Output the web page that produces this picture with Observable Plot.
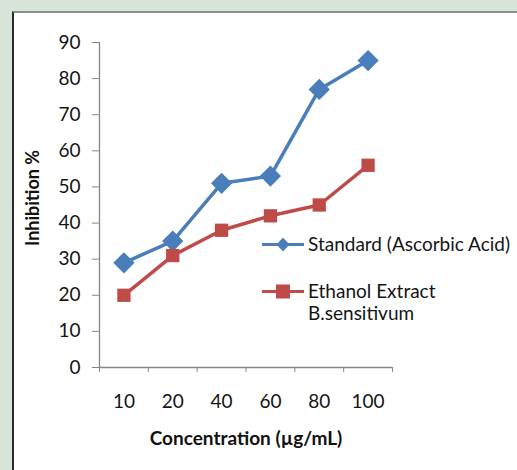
<!DOCTYPE html>
<html><head><meta charset="utf-8">
<script src="https://cdn.jsdelivr.net/npm/d3@7"></script>
<script src="https://cdn.jsdelivr.net/npm/@observablehq/plot@0.6"></script>
<style>
body{margin:0;}
#wrap{position:relative;width:517px;height:470px;background:#d6e4da;overflow:hidden;font-family:Lato,sans-serif;}
#panel{position:absolute;left:12px;top:11px;right:-4px;bottom:-4px;background:#fff;border-left:2px solid #2a2a2a;border-top:2px solid #8c8c8c;}
#chart{position:absolute;left:0;top:0;}
.leg{position:absolute;font-size:19px;color:#151515;line-height:22px;white-space:nowrap;}
.leg svg{position:absolute;left:-46px;top:0;}
</style></head>
<body>
<div id="wrap"><div id="panel"></div><div id="chart"></div>
<div class="leg" id="leg1" style="left:308px;top:233px;"></div>
<div class="leg" id="leg2" style="left:308px;top:280px;"></div>
</div>
<script>
const concentrations = ["10", "20", "40", "60", "80", "100"];
const standard = [29, 35, 51, 53, 77, 85];
const ethanol = [20, 31, 38, 42, 45, 56];
const yTicks = [0, 10, 20, 30, 40, 50, 60, 70, 80, 90];
const seriesNames = ["Standard (Ascorbic Acid)", "Ethanol Extract B.sensitivum"];
const colors = ["#4a7ebb", "#be4b48"];

const rows = [];
concentrations.forEach((c, i) => {
  rows.push({i, c, v: standard[i], s: seriesNames[0]});
  rows.push({i, c, v: ethanol[i], s: seriesNames[1]});
});
const idx = concentrations.map((c, i) => i);
const bounds = d3.range(concentrations.length + 1).map(k => k - 0.5);

const diamond = {draw(ctx, size) { const r = Math.sqrt(size) * 0.75; ctx.moveTo(0,-r); ctx.lineTo(r,0); ctx.lineTo(0,r); ctx.lineTo(-r,0); ctx.closePath(); }};
const square = {draw(ctx, size) { const r = Math.sqrt(size) * 0.5; ctx.rect(-r,-r,2*r,2*r); }};

const axisColor = "#868686";
const plot = Plot.plot({
  width: 517, height: 470,
  marginLeft: 99, marginRight: 125, marginTop: 42, marginBottom: 103,
  style: {background: "transparent", fontFamily: "Lato, sans-serif", color: "#151515", fontSize: "19px"},
  x: {type: "linear", domain: [-0.5, concentrations.length - 0.5]},
  y: {domain: [0, 90]},
  marks: [
    Plot.axisY(yTicks, {tickSize: 7, tickPadding: 12, stroke: axisColor, fill: "#151515", fontSize: 19, label: null}),
    Plot.axisX(bounds, {tickSize: 5, tickFormat: () => "", stroke: axisColor, label: null}),
    Plot.axisX(idx, {tickSize: 0, tickPadding: 27, tickFormat: i => concentrations[i], fill: "#151515", fontSize: 19, label: null}),
    Plot.ruleX([-0.5], {stroke: axisColor, strokeWidth: 1.3}),
    Plot.ruleY([0], {stroke: axisColor, strokeWidth: 1.3}),
    Plot.line(rows, {x: "i", y: "v", z: "s", stroke: d => d.s === seriesNames[0] ? colors[0] : colors[1], strokeWidth: 3.5}),
    Plot.dot(rows.filter(d => d.s === seriesNames[0]), {x: "i", y: "v", symbol: diamond, r: 8, fill: colors[0], stroke: "none"}),
    Plot.dot(rows.filter(d => d.s === seriesNames[1]), {x: "i", y: "v", symbol: square, r: 7.5, fill: colors[1], stroke: "none"}),
    Plot.text(["Concentration (µg/mL)"], {frameAnchor: "bottom", dy: 77, fontWeight: "bold", fontSize: 19, fill: "#111"}),
    Plot.text(["Inhibition %"], {frameAnchor: "left", textAnchor: "middle", dx: -66, dy: -7, rotate: -90, fontWeight: "bold", fontSize: 18, fill: "#111"})
  ]
});
document.getElementById("chart").appendChild(plot);

function legendGlyph(kind, color) {
  const s = kind === "d"
    ? `<path d="M21,4.5 L27.5,11.5 L21,18.5 L14.5,11.5 Z" fill="${color}"/>`
    : `<rect x="14" y="4.5" width="14" height="14" fill="${color}"/>`;
  return `<svg width="44" height="22"><line x1="0" x2="42" y1="11.5" y2="11.5" stroke="${color}" stroke-width="3"/>${s}</svg>`;
}
document.getElementById("leg1").innerHTML = legendGlyph("d", colors[0]) + "Standard (Ascorbic Acid)";
document.getElementById("leg2").innerHTML = legendGlyph("s", colors[1]) + "Ethanol Extract<br>B.sensitivum";
</script>
</body></html>
